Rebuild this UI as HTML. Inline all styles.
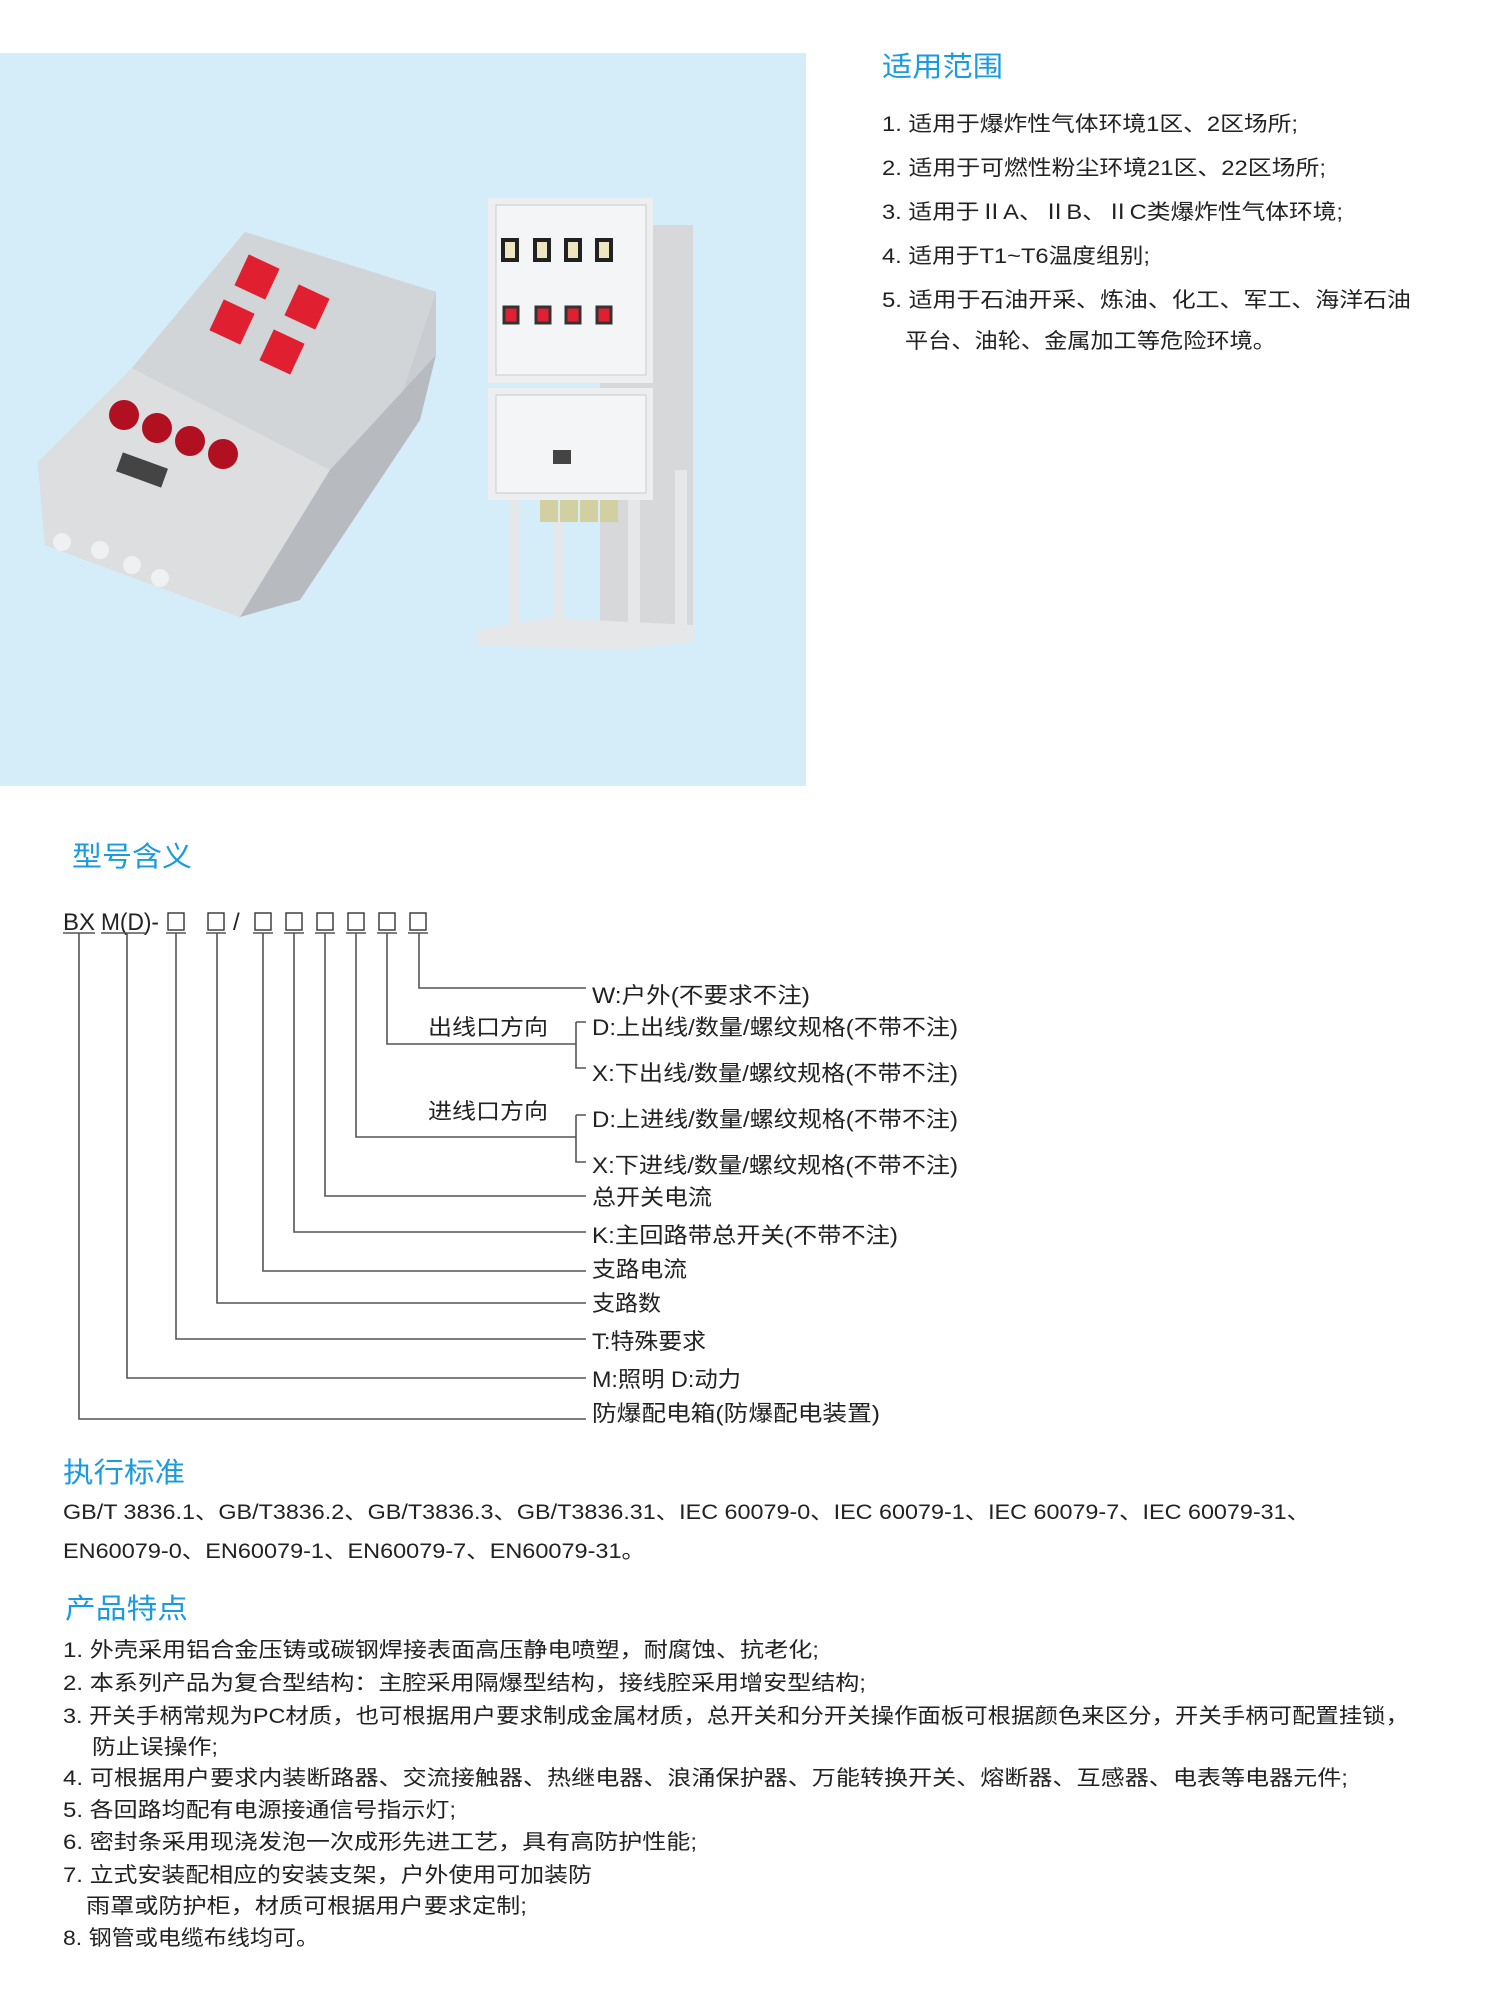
<!DOCTYPE html>
<html><head><meta charset="utf-8"><style>
html,body{margin:0;padding:0;background:#fff;}
svg{display:block}
text{font-family:"Liberation Sans","Noto Sans CJK SC",sans-serif;fill:#222;}
.t{fill:#1a9be0;font-size:28px}
.b{font-size:21px}
.d{font-size:22px}
</style></head><body>
<svg width="1500" height="1989" viewBox="0 0 1500 1989" xmlns="http://www.w3.org/2000/svg">
<rect x="0" y="53" width="806" height="733" fill="#d5ecf9"/>
<!-- left box -->
<polygon points="38,462 132,368 245,232 436,292 436,355 400,400 330,470 240,617 45,545" fill="#c9ccd0"/>
<polygon points="132,368 245,232 436,292 400,400 330,470" fill="#d2d5d8"/>
<polygon points="38,462 132,368 330,470 240,617 45,545" fill="#dcdee0"/>
<polygon points="240,617 330,470 436,355 420,420 300,600" fill="#b7bbbf"/>
<g fill="#e02030">
<rect x="240" y="260" width="34" height="34" transform="rotate(25 257 277)"/>
<rect x="290" y="290" width="34" height="34" transform="rotate(25 307 307)"/>
<rect x="215" y="305" width="34" height="34" transform="rotate(25 232 322)"/>
<rect x="265" y="335" width="34" height="34" transform="rotate(25 282 352)"/>
<circle cx="124" cy="415" r="15" fill="#b01020"/><circle cx="157" cy="428" r="15" fill="#b01020"/>
<circle cx="190" cy="441" r="15" fill="#b01020"/><circle cx="223" cy="454" r="15" fill="#b01020"/>
</g>
<rect x="118" y="460" width="48" height="20" fill="#444" transform="rotate(20 142 470)"/>
<g fill="#eef0f2"><circle cx="62" cy="542" r="9"/><circle cx="100" cy="550" r="9"/><circle cx="132" cy="565" r="9"/><circle cx="160" cy="578" r="9"/></g>
<!-- right cabinet -->
<rect x="600" y="225" width="93" height="410" fill="#d6d8da"/>
<rect x="488" y="198" width="165" height="185" fill="#eceeef"/>
<rect x="488" y="388" width="165" height="112" fill="#eceeef"/>
<rect x="496" y="205" width="150" height="170" fill="#f4f5f6" stroke="#ccc"/>
<rect x="496" y="395" width="150" height="98" fill="#f4f5f6" stroke="#ccc"/>
<g fill="#e8e4c8" stroke="#333" stroke-width="3"><circle cx="510" cy="215" r="0"/></g>
<g fill="#eee6c0" stroke="#222" stroke-width="4"><rect x="503" y="240" width="14" height="20"/><rect x="535" y="240" width="14" height="20"/><rect x="566" y="240" width="14" height="20"/><rect x="597" y="240" width="14" height="20"/></g>
<g fill="#e02030" stroke="#333" stroke-width="3"><rect x="504" y="307" width="14" height="16"/><rect x="536" y="307" width="14" height="16"/><rect x="566" y="307" width="14" height="16"/><rect x="597" y="307" width="14" height="16"/></g>
<rect x="553" y="450" width="18" height="14" fill="#444"/>
<g fill="#e6e7e8"><rect x="510" y="500" width="10" height="135"/><rect x="553" y="510" width="10" height="115"/><rect x="628" y="500" width="12" height="135"/><rect x="675" y="470" width="12" height="165"/>
<polygon points="478,630 548,618 693,625 693,642 620,650 478,645"/></g>
<g fill="#d2cfa0"><rect x="540" y="500" width="18" height="22"/><rect x="560" y="500" width="18" height="22"/><rect x="580" y="500" width="18" height="22"/><rect x="600" y="500" width="18" height="22"/></g>

<!-- scope -->
<text class="t" x="882" y="76" textLength="121" lengthAdjust="spacingAndGlyphs">适用范围</text>
<g class="b">
<text x="882" y="131" textLength="416" lengthAdjust="spacingAndGlyphs">1. 适用于爆炸性气体环境1区、2区场所;</text>
<text x="882" y="175" textLength="444" lengthAdjust="spacingAndGlyphs">2. 适用于可燃性粉尘环境21区、22区场所;</text>
<text x="882" y="219" textLength="461" lengthAdjust="spacingAndGlyphs">3. 适用于ⅡA、ⅡB、ⅡC类爆炸性气体环境;</text>
<text x="882" y="263" textLength="268" lengthAdjust="spacingAndGlyphs">4. 适用于T1~T6温度组别;</text>
<text x="882" y="307" textLength="529" lengthAdjust="spacingAndGlyphs">5. 适用于石油开采、炼油、化工、军工、海洋石油</text>
<text x="905" y="348" textLength="371" lengthAdjust="spacingAndGlyphs">平台、油轮、金属加工等危险环境。</text>
</g>

<!-- model -->
<text class="t" x="72" y="866" textLength="120" lengthAdjust="spacingAndGlyphs">型号含义</text>
<text x="63" y="930" font-size="24" textLength="32" lengthAdjust="spacingAndGlyphs">BX</text>
<text x="101" y="930" font-size="24" textLength="58" lengthAdjust="spacingAndGlyphs">M(D)-</text>
<text x="233" y="930" font-size="24">/</text>
<g fill="none" stroke="#333" stroke-width="1.4">
<rect x="168" y="913" width="16" height="17"/><rect x="208" y="913" width="16" height="17"/>
<rect x="255" y="913" width="16" height="17"/><rect x="286" y="913" width="16" height="17"/>
<rect x="317" y="913" width="16" height="17"/><rect x="348" y="913" width="16" height="17"/>
<rect x="379" y="913" width="16" height="17"/><rect x="410" y="913" width="16" height="17"/>
</g>
<g stroke="#555" stroke-width="1.6" fill="none">
<path d="M63 933h32M101 933h45M166 933h20M206 933h20M253 933h20M284 933h20M315 933h20M346 933h20M377 933h20M408 933h20"/>
<path d="M419 933V988H586"/>
<path d="M387 933V1044H576"/>
<path d="M576 1022V1068H586M576 1022h10"/>
<path d="M356 933V1137H576"/>
<path d="M576 1115V1162H586M576 1115h10"/>
<path d="M325 933V1196H586"/>
<path d="M294 933V1232H586"/>
<path d="M263 933V1271H586"/>
<path d="M217 933V1303H586"/>
<path d="M176 933V1339H586"/>
<path d="M127 933V1378H586"/>
<path d="M79 933V1419H586"/>
</g>
<g class="d">
<text x="428" y="1035" textLength="120" lengthAdjust="spacingAndGlyphs">出线口方向</text>
<text x="428" y="1119" textLength="120" lengthAdjust="spacingAndGlyphs">进线口方向</text>
<text x="592" y="1003" textLength="218" lengthAdjust="spacingAndGlyphs">W:户外(不要求不注)</text>
<text x="592" y="1035" textLength="366" lengthAdjust="spacingAndGlyphs">D:上出线/数量/螺纹规格(不带不注)</text>
<text x="592" y="1081" textLength="366" lengthAdjust="spacingAndGlyphs">X:下出线/数量/螺纹规格(不带不注)</text>
<text x="592" y="1127" textLength="366" lengthAdjust="spacingAndGlyphs">D:上进线/数量/螺纹规格(不带不注)</text>
<text x="592" y="1173" textLength="366" lengthAdjust="spacingAndGlyphs">X:下进线/数量/螺纹规格(不带不注)</text>
<text x="592" y="1205" textLength="120" lengthAdjust="spacingAndGlyphs">总开关电流</text>
<text x="592" y="1243" textLength="306" lengthAdjust="spacingAndGlyphs">K:主回路带总开关(不带不注)</text>
<text x="592" y="1277" textLength="95" lengthAdjust="spacingAndGlyphs">支路电流</text>
<text x="592" y="1311" textLength="69" lengthAdjust="spacingAndGlyphs">支路数</text>
<text x="592" y="1349" textLength="114" lengthAdjust="spacingAndGlyphs">T:特殊要求</text>
<text x="592" y="1387" textLength="149" lengthAdjust="spacingAndGlyphs">M:照明 D:动力</text>
<text x="592" y="1421" textLength="288" lengthAdjust="spacingAndGlyphs">防爆配电箱(防爆配电装置)</text>
</g>

<!-- standards -->
<text class="t" x="63" y="1482" textLength="122" lengthAdjust="spacingAndGlyphs">执行标准</text>
<g class="b">
<text x="63" y="1519" textLength="1247" lengthAdjust="spacingAndGlyphs">GB/T 3836.1、GB/T3836.2、GB/T3836.3、GB/T3836.31、IEC 60079-0、IEC 60079-1、IEC 60079-7、IEC 60079-31、</text>
<text x="63" y="1558" textLength="582" lengthAdjust="spacingAndGlyphs">EN60079-0、EN60079-1、EN60079-7、EN60079-31。</text>
</g>

<!-- features -->
<text class="t" x="65" y="1618" textLength="123" lengthAdjust="spacingAndGlyphs">产品特点</text>
<g class="b">
<text x="63" y="1657" textLength="756" lengthAdjust="spacingAndGlyphs">1. 外壳采用铝合金压铸或碳钢焊接表面高压静电喷塑，耐腐蚀、抗老化;</text>
<text x="63" y="1690" textLength="803" lengthAdjust="spacingAndGlyphs">2. 本系列产品为复合型结构：主腔采用隔爆型结构，接线腔采用增安型结构;</text>
<text x="63" y="1723" textLength="1346" lengthAdjust="spacingAndGlyphs">3. 开关手柄常规为PC材质，也可根据用户要求制成金属材质，总开关和分开关操作面板可根据颜色来区分，开关手柄可配置挂锁，</text>
<text x="92" y="1754" textLength="126" lengthAdjust="spacingAndGlyphs">防止误操作;</text>
<text x="63" y="1785" textLength="1285" lengthAdjust="spacingAndGlyphs">4. 可根据用户要求内装断路器、交流接触器、热继电器、浪涌保护器、万能转换开关、熔断器、互感器、电表等电器元件;</text>
<text x="63" y="1817" textLength="393" lengthAdjust="spacingAndGlyphs">5. 各回路均配有电源接通信号指示灯;</text>
<text x="63" y="1849" textLength="634" lengthAdjust="spacingAndGlyphs">6. 密封条采用现浇发泡一次成形先进工艺，具有高防护性能;</text>
<text x="63" y="1882" textLength="529" lengthAdjust="spacingAndGlyphs">7. 立式安装配相应的安装支架，户外使用可加装防</text>
<text x="86" y="1913" textLength="441" lengthAdjust="spacingAndGlyphs">雨罩或防护柜，材质可根据用户要求定制;</text>
<text x="63" y="1945" textLength="256" lengthAdjust="spacingAndGlyphs">8. 钢管或电缆布线均可。</text>
</g>
</svg>
</body></html>
